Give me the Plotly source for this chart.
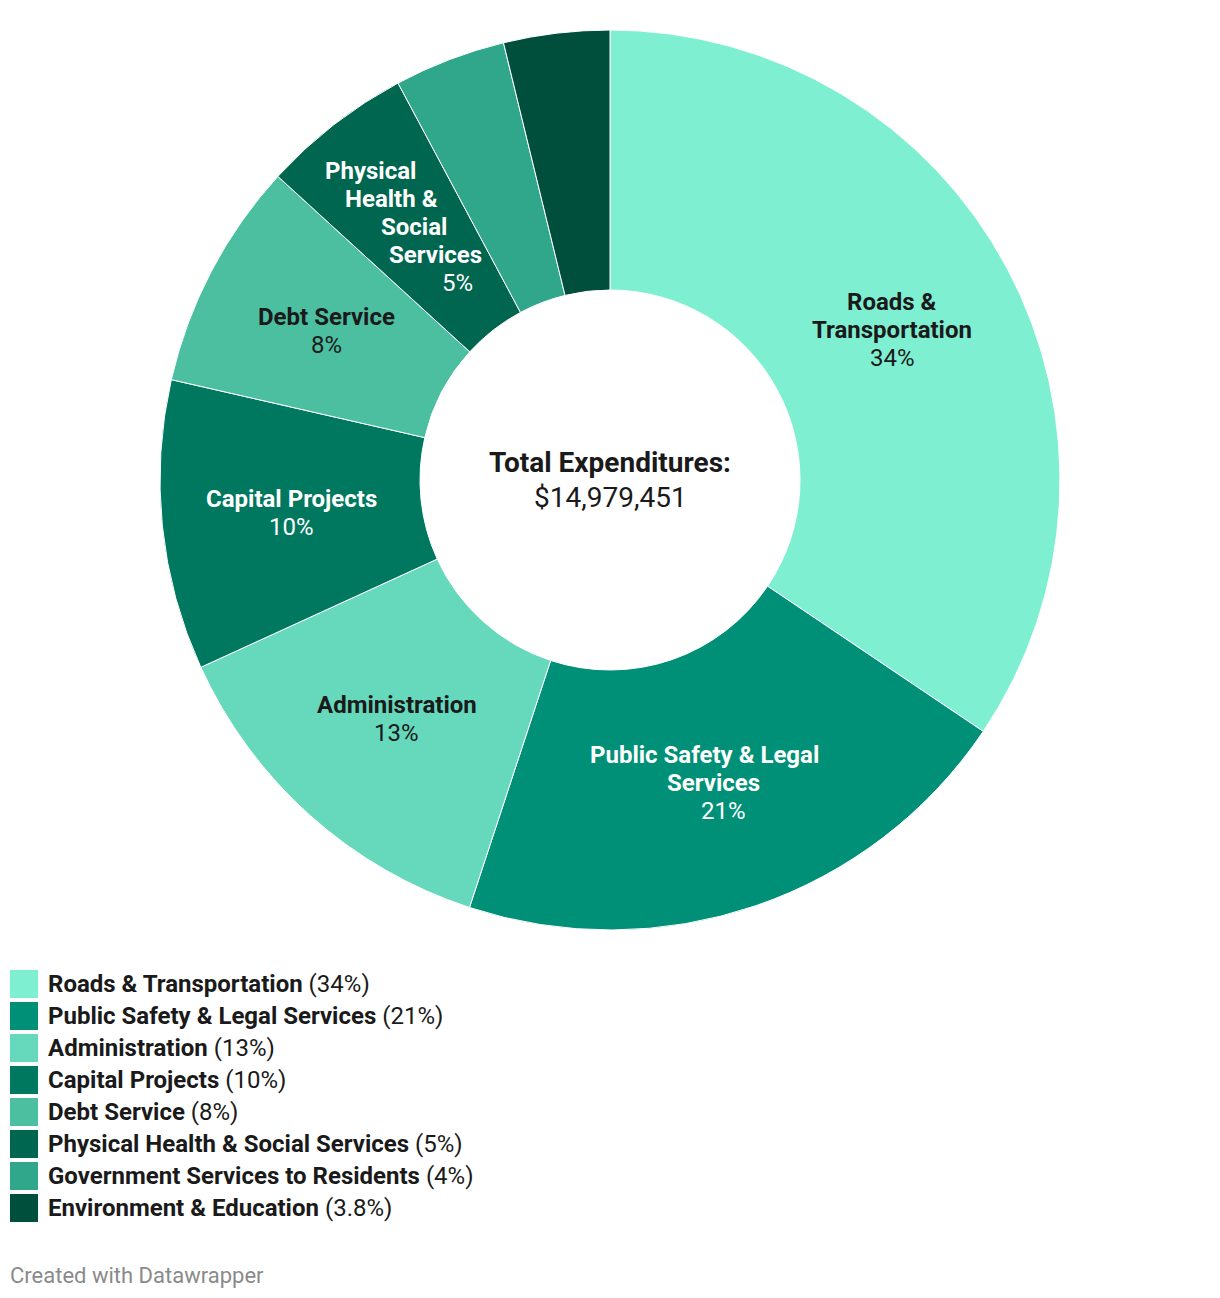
import math
import plotly.graph_objects as go

# ---- data ----
categories = [
    "Roads & Transportation",
    "Public Safety & Legal Services",
    "Administration",
    "Capital Projects",
    "Debt Service",
    "Physical Health & Social Services",
    "Government Services to Residents",
    "Environment & Education",
]
shares = [34.4, 20.6, 13.1, 10.4, 8.2, 5.4, 4.0, 3.8]
pct_labels = ["34%", "21%", "13%", "10%", "8%", "5%", "4%", "3.8%"]
slice_label_lines = [
    ["Roads &", "Transportation"],
    ["Public Safety & Legal", "Services"],
    ["Administration"],
    ["Capital Projects"],
    ["Debt Service"],
    ["Physical", "Health &", "Social", "Services"],
    [],
    [],
]
total_title = "Total Expenditures:"
total_value = "$14,979,451"
footer = "Created with Datawrapper"

# ---- style ----
colors = ["#7FEFD2", "#009077", "#66D8BB", "#00785F",
          "#4CBFA1", "#00664F", "#30A68A", "#004F3D"]
label_on_dark = [False, True, False, True, False, True, True, True]
radial_stack = [False, True, False, False, False, True, False, False]
FONT = "Roboto"
DARK = "#1a1a1a"

W, H = 1220, 1298
CX, CY = 610, 480
R_OUT, R_IN = 450, 190
R_MID = (R_OUT + R_IN) / 2
LINE_H = 28


def px(x):
    return x / W


def py(y):
    return 1 - y / H


fig = go.Figure(go.Pie(
    labels=categories,
    values=shares,
    sort=False,
    direction="clockwise",
    rotation=0,
    hole=R_IN / R_OUT,
    marker=dict(colors=colors, line=dict(color="white", width=1)),
    textinfo="none",
    hoverinfo="label+percent",
    domain=dict(x=[0, 1], y=[py(CY + R_OUT), py(CY - R_OUT)]),
))

annotations = []
shapes = []

# slice labels
total = sum(shares)
cum = 0.0
for i, v in enumerate(shares):
    mid = (cum + v / 2) / total * 2 * math.pi
    cum += v
    lines = slice_label_lines[i]
    if not lines:
        continue
    all_lines = [(l, True) for l in lines] + [(pct_labels[i], False)]
    n = len(all_lines)
    lx = CX + R_MID * math.sin(mid)
    ly = CY - R_MID * math.cos(mid)
    ratio = 0.0
    if radial_stack[i]:
        ratio = math.sin(mid) / (-math.cos(mid))
    col = "white" if label_on_dark[i] else DARK
    for k, (txt, bold) in enumerate(all_lines):
        dy = (k - (n - 1) / 2) * LINE_H
        dx = dy * ratio
        annotations.append(dict(
            x=px(lx + dx), y=py(ly + dy), xref="paper", yref="paper",
            text=f"<b>{txt}</b>" if bold else txt,
            showarrow=False, xanchor="center", yanchor="middle",
            font=dict(family=FONT, size=24, color=col),
        ))

# center text
annotations.append(dict(
    x=px(CX), y=py(CY - 17), xref="paper", yref="paper",
    text=f"<b>{total_title}</b>", showarrow=False,
    xanchor="center", yanchor="middle",
    font=dict(family=FONT, size=28, color=DARK)))
annotations.append(dict(
    x=px(CX), y=py(CY + 17), xref="paper", yref="paper",
    text=total_value, showarrow=False,
    xanchor="center", yanchor="middle",
    font=dict(family=FONT, size=28, color=DARK)))

# legend
LEG_Y0, LEG_STEP, SQ = 984, 32, 28
for i, name in enumerate(categories):
    yc = LEG_Y0 + i * LEG_STEP
    shapes.append(dict(
        type="rect", xref="paper", yref="paper",
        x0=px(10), x1=px(10 + SQ), y0=py(yc + SQ / 2), y1=py(yc - SQ / 2),
        fillcolor=colors[i], line=dict(width=0)))
    annotations.append(dict(
        x=px(46), y=py(yc), xref="paper", yref="paper",
        text=f"<b>{name}</b> ({pct_labels[i]})", showarrow=False,
        xanchor="left", yanchor="middle",
        font=dict(family=FONT, size=24, color=DARK)))

# footer
annotations.append(dict(
    x=px(8), y=py(1275), xref="paper", yref="paper",
    text=footer, showarrow=False, xanchor="left", yanchor="middle",
    font=dict(family=FONT, size=22, color="#8a8a8a")))

fig.update_layout(
    width=W, height=H,
    margin=dict(l=0, r=0, t=0, b=0),
    paper_bgcolor="white", plot_bgcolor="white",
    showlegend=False,
    annotations=annotations, shapes=shapes,
    font=dict(family=FONT),
)

fig.write_html("out.html")
